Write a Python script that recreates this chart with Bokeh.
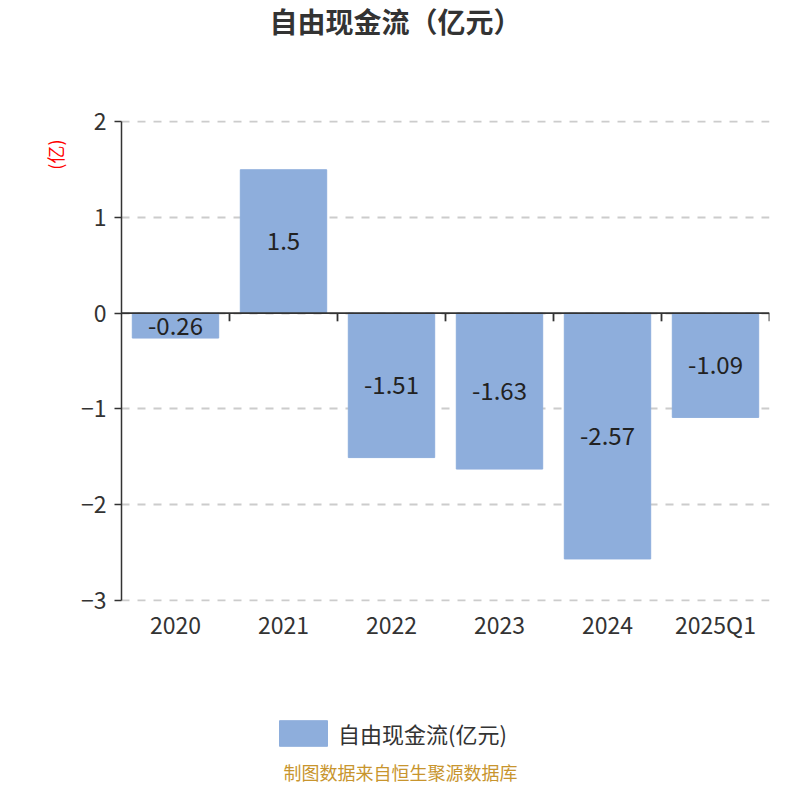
import numpy as np
from bokeh.plotting import figure
from bokeh.layouts import column
from bokeh.models import (ColumnDataSource, FixedTicker, LinearAxis, Span, Title, Label,
                          Legend, LegendItem, Range1d)
from bokeh.embed import file_html
from bokeh.resources import INLINE
from bokeh.core.properties import value

categories = ["2020", "2021", "2022", "2023", "2024", "2025Q1"]
values = [-0.26, 1.5, -1.51, -1.63, -2.57, -1.09]
value_labels = ["-0.26", "1.5", "-1.51", "-1.63", "-2.57", "-1.09"]
y_ticks = [-3, -2, -1, 0, 1, 2]
title_text = "自由现金流（亿元）"
series_name = "自由现金流(亿元)"
unit_text = "(亿)"
footer_text = "制图数据来自恒生聚源数据库"

FONT = "Noto Sans CJK SC"
BAR = "#8eaedc"
DARK = "#333333"
W = 784
PAD = 0.015  # keeps the end grid lines fully inside the frame


def blank(height):
    f = figure(width=W, height=height, output_backend="svg", toolbar_location=None,
               x_range=Range1d(0, 1), y_range=Range1d(0, 1), title=None,
               x_axis_location=None, y_axis_location=None,
               min_border_left=0, min_border_right=0, min_border_top=0, min_border_bottom=0)
    f.outline_line_color = None
    f.xgrid.visible = False
    f.ygrid.visible = False
    return f


n = len(categories)
centers = np.arange(n) + 0.5
boundaries = np.arange(1, n + 1)

src = ColumnDataSource(dict(x=centers, top=values, mid=[v / 2 for v in values], lab=value_labels))

# ---- title strip (frame aligned with the chart frame below, left edge at 121px)
top = blank(100)
top.add_layout(Label(x=274, y=80, x_units="screen", y_units="screen", text=title_text,
                     text_align="center", text_baseline="middle", text_font=FONT,
                     text_font_size="28px", text_font_style="bold", text_color=DARK))

# ---- main chart
p = figure(width=W, height=560, output_backend="svg", toolbar_location=None,
           x_range=Range1d(0, n), y_range=Range1d(min(y_ticks) - PAD, max(y_ticks) + PAD),
           min_border_left=121, min_border_right=15, min_border_top=20, min_border_bottom=59,
           title=None, x_axis_location=None, y_axis_location=None)
p.outline_line_color = None

p.xgrid.visible = False
p.ygrid.ticker = FixedTicker(ticks=y_ticks)
p.ygrid.grid_line_color = "#cccccc"
p.ygrid.grid_line_dash = "8 8"
p.ygrid.grid_line_width = 1.8

bars = p.vbar(x="x", top="top", bottom=0, width=0.8, source=src,
              fill_color=BAR, line_color=BAR, line_width=1)

yax = LinearAxis(ticker=FixedTicker(ticks=y_ticks), bounds=(min(y_ticks), max(y_ticks)))
yax.axis_line_color = DARK
yax.axis_line_width = 1.5
yax.major_tick_line_color = DARK
yax.major_tick_line_width = 1.5
yax.major_tick_out = 7
yax.major_tick_in = 0
yax.minor_tick_line_color = None
yax.major_label_text_font = FONT
yax.major_label_text_font_size = "23px"
yax.major_label_text_color = DARK
yax.major_label_standoff = 8
p.add_layout(yax, "left")

p.add_layout(Title(text=unit_text, align="right", offset=19, standoff=20,
                   text_font=FONT, text_font_size="18px", text_font_style="normal",
                   text_color="#ff0000"), "left")

xax = LinearAxis(ticker=FixedTicker(ticks=list(centers)))
xax.major_label_overrides = {float(c): cat for c, cat in zip(centers, categories)}
xax.axis_line_color = None
xax.major_tick_line_color = None
xax.major_tick_out = 0
xax.major_tick_in = 0
xax.minor_tick_line_color = None
xax.major_label_text_font = FONT
xax.major_label_text_font_size = "23px"
xax.major_label_text_color = DARK
xax.major_label_standoff = 5
p.add_layout(xax, "below")

p.add_layout(Span(location=0, dimension="width", line_color=DARK, line_width=1.8))
p.segment(x0=boundaries, x1=boundaries, y0=np.zeros(n), y1=np.full(n, -0.085),
          line_color=DARK, line_width=1.8)

p.text(x="x", y="mid", text="lab", source=src, text_align="center", text_baseline="middle",
       text_font=value(FONT), text_font_size="24px", text_color="#222222")

# ---- legend + source strip
bot = blank(124)
leg_r = bot.vbar(x="x", top="top", width=0.8, source=src, fill_color=BAR, line_color=BAR,
                 visible=False)
legend = Legend(items=[LegendItem(label=series_name, renderers=[leg_r])],
                location=(152, 35), orientation="horizontal",
                glyph_width=60, glyph_height=32, label_height=32,
                label_standoff=5, padding=0, margin=0, spacing=0,
                border_line_color=None, background_fill_alpha=0,
                inactive_fill_alpha=0,
                label_text_font=FONT, label_text_font_size="22px",
                label_text_color=DARK, label_text_baseline="middle")
bot.add_layout(legend, "center")
bot.add_layout(Label(x=279, y=13, x_units="screen", y_units="screen", text=footer_text,
                     text_align="center", text_baseline="middle", text_font=FONT,
                     text_font_size="18px", text_color="#c8952e"))

layout = column(top, p, bot, spacing=0)
open("out.html", "w").write(file_html(layout, INLINE))
